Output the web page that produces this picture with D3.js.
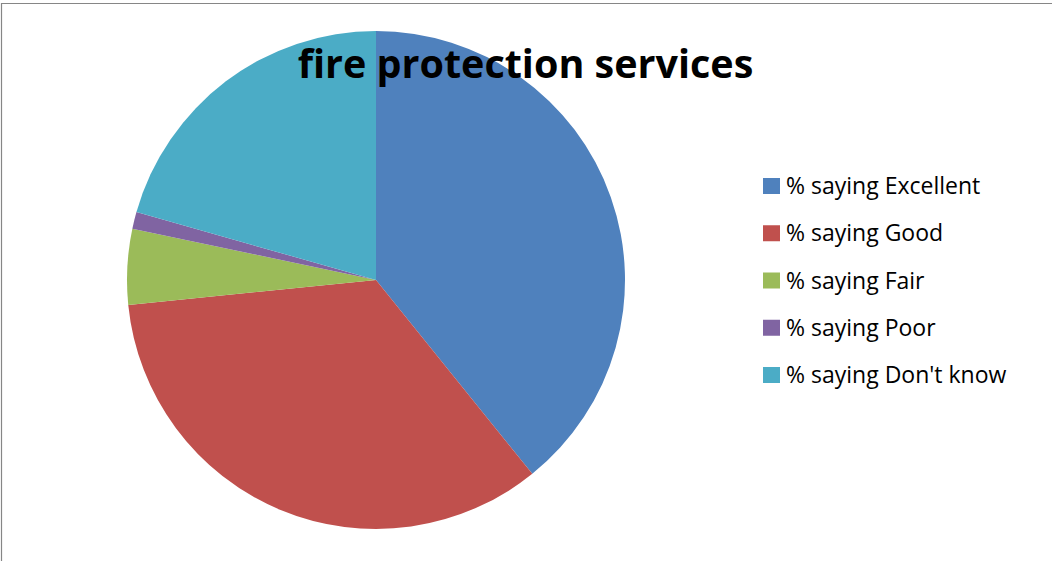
<!DOCTYPE html>
<html><head><meta charset="utf-8">
<script src="https://cdn.jsdelivr.net/npm/d3@7"></script>
<style>body{margin:0;background:#fff;}svg{display:block;}</style>
</head><body>
<script>
const categories = ["% saying Excellent", "% saying Good", "% saying Fair", "% saying Poor", "% saying Don't know"];
const values = [39.2, 34.2, 4.9, 1.1, 20.6];
const colors = ["#4F81BD", "#C0504D", "#9BBB59", "#8064A2", "#4BACC6"];
const title = "fire protection services";

const W = 1052, H = 561;
const svg = d3.select("body").append("svg").attr("width", W).attr("height", H);
svg.append("rect").attr("x", 0).attr("y", 0).attr("width", W).attr("height", H).attr("fill", "#fff");
// border (top and left visible)
svg.append("path").attr("d", "M1.5,561 L1.5,3.5 L1052,3.5").attr("fill", "none").attr("stroke", "#868686").attr("stroke-width", 1.2);

const cx = 376, cy = 280, r = 249;
const data = categories.map((c, i) => ({cat: c, v: values[i], color: colors[i]}));
const pie = d3.pie().value(d => d.v).sort(null);
const arc = d3.arc().innerRadius(0).outerRadius(r);
const g = svg.append("g").attr("transform", `translate(${cx},${cy})`);
g.selectAll("path").data(pie(data)).join("path")
  .attr("d", arc).attr("fill", d => d.data.color);

svg.append("text").attr("x", 525.5).attr("y", 78).attr("text-anchor", "middle")
  .attr("font-family", "'Open Sans', sans-serif").attr("font-weight", "bold")
  .attr("font-size", 39.5).attr("fill", "#000").text(title);

const lg = svg.append("g");
const rowY = d3.scalePoint().domain(categories).range([186, 375]);
categories.forEach((c, i) => {
  const y = rowY(c);
  lg.append("rect").attr("x", 763).attr("y", y - 8).attr("width", 17).attr("height", 16).attr("fill", colors[i]);
  lg.append("text").attr("x", 786).attr("y", y).attr("dy", "0.35em")
    .attr("font-family", "'Open Sans', sans-serif").attr("font-size", 23)
    .attr("fill", "#000").text(c);
});
</script>
</body></html>
